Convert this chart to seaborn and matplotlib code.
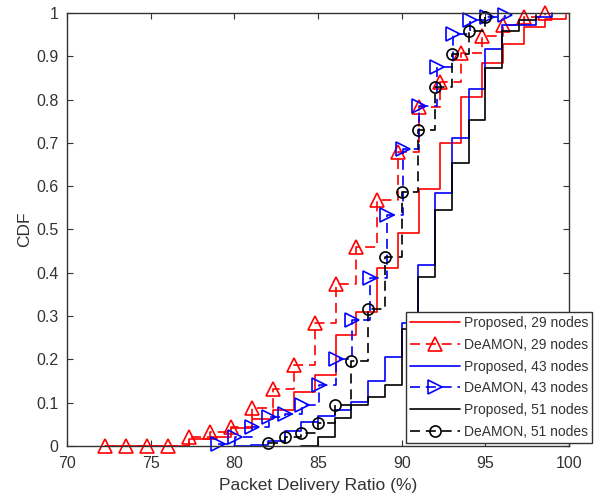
import matplotlib
matplotlib.use("Agg")
import matplotlib.pyplot as plt
import seaborn as sns

# values (step positions and CDF after each step)
x29 = [72.3, 73.55, 74.8, 76.05, 77.3, 78.55, 79.8, 81.05, 82.3, 83.55, 84.8,
       86.05, 87.3, 88.55, 89.8, 91.05, 92.3, 93.55, 94.8, 96.05, 97.3, 98.55, 99.8]
prop29 = [0, 0, 0, 0, 0.015, 0.02, 0.041, 0.062, 0.083, 0.125, 0.164,
          0.256, 0.31, 0.41, 0.491, 0.594, 0.699, 0.805, 0.885, 0.928, 0.968, 0.986, 0.996]
deamon29 = [0, 0, 0, 0, 0.021, 0.033, 0.043, 0.087, 0.131, 0.187, 0.285,
            0.374, 0.46, 0.568, 0.68, 0.784, 0.841, 0.907, 0.947, 0.972, 0.99, 1.0]

x_prop43 = [80, 81, 82, 83, 84, 85, 86, 87, 88, 89, 90, 91, 92, 93, 94, 95, 96, 98, 99]
prop43 = [0, 0.003, 0.012, 0.035, 0.056, 0.069, 0.083, 0.101, 0.151, 0.206, 0.283,
          0.418, 0.584, 0.712, 0.824, 0.916, 0.972, 0.99, 1.0]
x_deamon43 = [79.05, 80.05, 81.05, 82.05, 83.05, 84.05, 85.05, 86.05, 87.05, 88.1,
              89.1, 90.1, 91.05, 92.1, 93.05, 94.1, 95.1, 96.15]
deamon43 = [0.005, 0.021, 0.044, 0.067, 0.074, 0.095, 0.14, 0.2, 0.29, 0.389,
            0.533, 0.687, 0.786, 0.876, 0.951, 0.984, 0.99, 0.995]

x_prop51 = [84, 85, 86, 87, 88, 89, 90, 91, 92, 93, 94, 95, 96, 97, 98]
prop51 = [0, 0.021, 0.064, 0.095, 0.114, 0.141, 0.27, 0.391, 0.545, 0.653, 0.753,
          0.872, 0.959, 0.984, 0.995]
x_deamon51 = [82, 83, 84, 85, 86, 87, 88, 89, 90, 91, 92, 93, 94, 95]
deamon51 = [0.008, 0.021, 0.031, 0.052, 0.095, 0.196, 0.316, 0.436, 0.587, 0.73,
            0.83, 0.905, 0.958, 0.99]

labels = ["Proposed, 29 nodes", "DeAMON, 29 nodes",
          "Proposed, 43 nodes", "DeAMON, 43 nodes",
          "Proposed, 51 nodes", "DeAMON, 51 nodes"]

sns.set_style("ticks")
plt.rcParams["font.family"] = ["Liberation Sans", "DejaVu Sans"]
txt = "#333333"

fig = plt.figure(figsize=(5.96, 5.01), dpi=100)
ax = fig.add_axes([0.1124, 0.1098, 0.8423, 0.8643])

series = [
    (x29, prop29, "red", None, None),
    (x29[:len(deamon29)], deamon29, "red", "^", 9.5),
    (x_prop43, prop43, "blue", None, None),
    (x_deamon43, deamon43, "blue", ">", 9.5),
    (x_prop51, prop51, "black", None, None),
    (x_deamon51, deamon51, "black", "o", 8),
]

# stairs like matlab: solid for Proposed, dashed + open markers for DeAMON
for (xs, ys, col, mk, ms), lab in zip(series, labels):
    kw = dict(x=xs, y=ys, ax=ax, color=col, label=lab, estimator=None, sort=False,
              drawstyle="steps-post", linewidth=1.2, clip_on=False)
    if mk is None:
        sns.lineplot(**kw)
    else:
        sns.lineplot(**kw, dashes=(6, 3.5), marker=mk, markersize=ms,
                     markerfacecolor="none", markeredgecolor=col, markeredgewidth=1.2)

ax.set_xlim(70, 100)
ax.set_ylim(0, 1)
ax.set_xticks(range(70, 101, 5))
yt = [i / 10 for i in range(11)]
ax.set_yticks(yt)
ax.set_yticklabels(["0"] + [f"{v:.1f}" for v in yt[1:-1]] + ["1"])
ax.tick_params(direction="in", top=True, right=True, length=4, width=0.8,
               colors=txt, labelsize=11.5)
ax.tick_params(axis="x", pad=7)
ax.tick_params(axis="y", pad=6)
for s in ax.spines.values():
    s.set_visible(True)
    s.set_color(txt)
    s.set_linewidth(1.0)

ax.set_xlabel("Packet Delivery Ratio (%)", fontsize=12.5, color=txt, labelpad=5)
ax.set_ylabel("CDF", fontsize=12.5, color=txt, labelpad=3)

leg = ax.legend(loc="lower left", bbox_to_anchor=(406 / 596, 1 - 443 / 501),
                bbox_transform=fig.transFigure, fontsize=10, frameon=True,
                fancybox=False, framealpha=1, edgecolor=txt, borderpad=0.3,
                handlelength=3.6, handletextpad=0.25, labelspacing=0.56,
                borderaxespad=0)
leg.get_frame().set_linewidth(1.0)
for t in leg.get_texts():
    t.set_color(txt)

fig.savefig("out.png", dpi=100)
